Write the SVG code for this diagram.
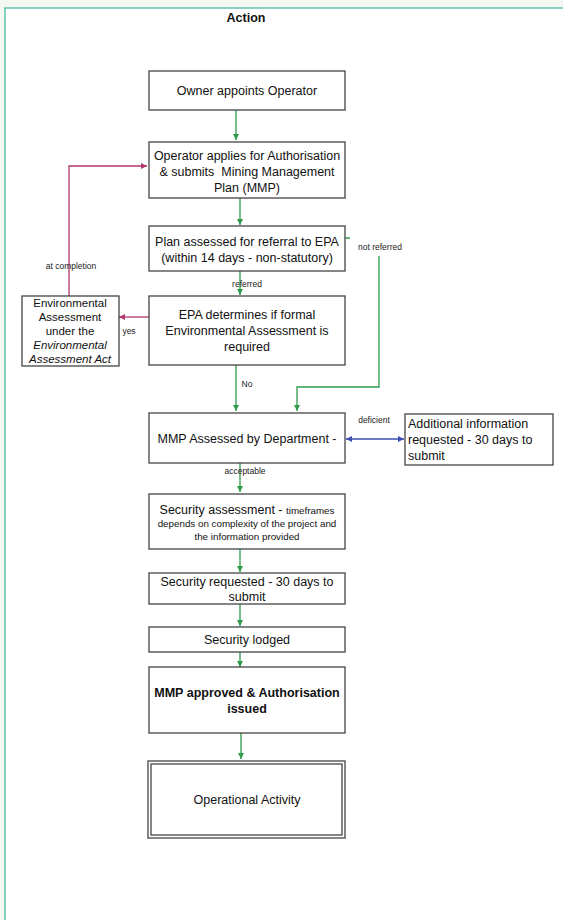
<svg xmlns="http://www.w3.org/2000/svg" width="563" height="920" viewBox="0 0 563 920">
<defs>
<style>
.box{fill:#fff;stroke:#444;stroke-width:1.3}
.t{font-family:"Liberation Sans",Arial,sans-serif;font-size:12.5px;fill:#111;text-anchor:middle}
.s{font-family:"Liberation Sans",Arial,sans-serif;font-size:8.5px;fill:#222;text-anchor:middle}
.g{fill:none;stroke:#2f9a4c;stroke-width:1.3}
.m{fill:none;stroke:#b0376f;stroke-width:1.3}
.b{fill:none;stroke:#3b4fb3;stroke-width:1.3}
</style>
<marker id="ag" viewBox="0 0 8 8" refX="8" refY="4" markerWidth="6" markerHeight="6" orient="auto" markerUnits="userSpaceOnUse"><path d="M0,0L8,4L0,8z" fill="#2f9a4c"/></marker>
<marker id="am" viewBox="0 0 8 8" refX="8" refY="4" markerWidth="6" markerHeight="6" orient="auto" markerUnits="userSpaceOnUse"><path d="M0,0L8,4L0,8z" fill="#b0376f"/></marker>
<marker id="ab" viewBox="0 0 8 8" refX="8" refY="4" markerWidth="6" markerHeight="6" orient="auto-start-reverse" markerUnits="userSpaceOnUse"><path d="M0,0L8,4L0,8z" fill="#3b4fb3"/></marker>
</defs>
<rect x="0" y="0" width="563" height="920" fill="#f4f8f3"/>
<rect x="5" y="8" width="560" height="914" fill="#fff" stroke="#3fb3a0" stroke-width="1.2"/>
<text x="246" y="22" class="t" style="font-weight:bold">Action</text>

<g id="connectors">
<path class="g" d="M236,110V140" marker-end="url(#ag)"/>
<path class="g" d="M240,198V225" marker-end="url(#ag)"/>
<path class="g" d="M240,271V295" marker-end="url(#ag)"/>
<path class="g" d="M236,365V411" marker-end="url(#ag)"/>
<path class="g" d="M344,238H379V387H297V411" marker-end="url(#ag)"/>
<path class="m" d="M149,317H119" marker-end="url(#am)"/>
<path class="m" d="M69,296V166H147" marker-end="url(#am)"/>
<path class="b" d="M346,439H404" marker-start="url(#ab)" marker-end="url(#ab)"/>
<path class="g" d="M240,463V492" marker-end="url(#ag)"/>
<path class="g" d="M240,549V572" marker-end="url(#ag)"/>
<path class="g" d="M240,604V626" marker-end="url(#ag)"/>
<path class="g" d="M240,652V667" marker-end="url(#ag)"/>
<path class="g" d="M241,733V759" marker-end="url(#ag)"/>
<rect x="350" y="232" width="60" height="24" fill="#fff"/>
<text x="380" y="250" class="s">not referred</text>
<text x="247" y="287" class="s">referred</text>
<text x="71" y="269" class="s">at completion</text>
<text x="129" y="334" class="s">yes</text>
<text x="247" y="387" class="s">No</text>
<text x="374" y="423" class="s">deficient</text>
<text x="245" y="474" class="s">acceptable</text>
</g>

<g id="owner"><rect class="box" x="149" y="71" width="196" height="39"/><text x="247" y="95" class="t">Owner appoints Operator</text></g>
<g id="operator"><rect class="box" x="149" y="142" width="196" height="56"/>
<text class="t"><tspan x="247" y="160">Operator applies for Authorisation</tspan><tspan x="247" y="176" style="white-space:pre">&amp; submits  Mining Management</tspan><tspan x="247" y="192">Plan (MMP)</tspan></text></g>
<g id="plan"><rect class="box" x="149" y="226" width="196" height="45"/>
<text class="t"><tspan x="247" y="246">Plan assessed for referral to EPA</tspan><tspan x="247" y="262">(within 14 days - non-statutory)</tspan></text></g>
<g id="epa"><rect class="box" x="149" y="296" width="196" height="69"/>
<text class="t"><tspan x="247" y="319">EPA determines if formal</tspan><tspan x="247" y="335">Environmental Assessment is</tspan><tspan x="247" y="351">required</tspan></text></g>
<g id="envassess"><rect class="box" x="22" y="296" width="97" height="70"/>
<text class="t" style="font-size:11.5px"><tspan x="70" y="307">Environmental</tspan><tspan x="70" y="321">Assessment</tspan><tspan x="70" y="335">under the</tspan><tspan x="70" y="349" font-style="italic">Environmental</tspan><tspan x="70" y="363" font-style="italic">Assessment Act</tspan></text></g>
<g id="mmpassess"><rect class="box" x="149" y="413" width="196" height="50"/><text x="247" y="443" class="t">MMP Assessed by Department -</text></g>
<g id="addinfo"><rect class="box" x="405" y="414" width="148" height="51"/>
<text class="t" style="text-anchor:start"><tspan x="408" y="428">Additional information</tspan><tspan x="408" y="444">requested - 30 days to</tspan><tspan x="408" y="460">submit</tspan></text></g>
<g id="secassess"><rect class="box" x="149" y="494" width="196" height="55"/>
<text class="t"><tspan x="247" y="514">Security assessment - <tspan style="font-size:9.8px">timeframes</tspan></tspan></text>
<text class="t" style="font-size:9.8px"><tspan x="247" y="527">depends on complexity of the project and</tspan><tspan x="247" y="540">the information provided</tspan></text></g>
<g id="secreq"><rect class="box" x="149" y="573" width="196" height="31"/>
<text class="t"><tspan x="247" y="586">Security requested - 30 days to</tspan><tspan x="247" y="601">submit</tspan></text></g>
<g id="seclodged"><rect class="box" x="149" y="627" width="196" height="25"/><text x="247" y="644" class="t">Security lodged</text></g>
<g id="approved"><rect class="box" x="149" y="667" width="196" height="66"/>
<text class="t" style="font-weight:bold"><tspan x="247" y="697">MMP approved &amp; Authorisation</tspan><tspan x="247" y="713">issued</tspan></text></g>
<g id="operational"><rect class="box" x="148" y="761" width="197" height="77"/><rect class="box" x="151" y="764" width="191" height="71"/><text x="247" y="804" class="t">Operational Activity</text></g>
</svg>
